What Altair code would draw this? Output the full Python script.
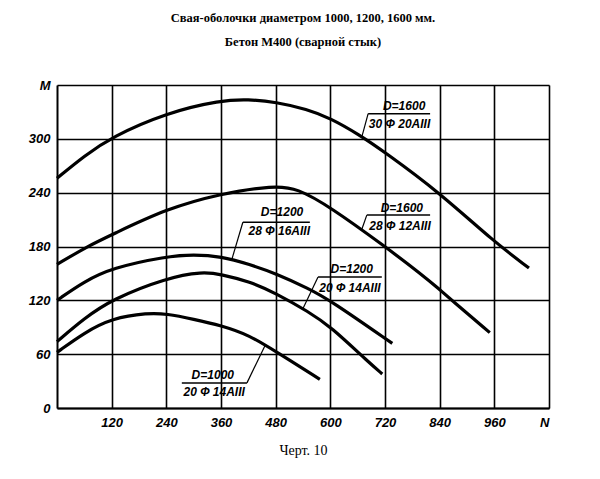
import altair as alt
import pandas as pd

# ---- data ----
x_ticks = [120, 240, 360, 480, 600, 720, 840, 960, 1080]
y_ticks = [0, 60, 120, 180, 240, 300, 360]

c1_x = [0, 60, 120, 240, 360, 420, 480, 549, 600, 662, 720, 840, 960, 1036]
c1_y = [256, 281, 302, 329, 343, 344, 341, 333, 323, 305, 285, 240, 185, 156]
c2_x = [0, 66, 120, 240, 360, 476, 527, 600, 720, 800, 840, 867, 950]
c2_y = [160, 180, 193, 222, 239, 248, 245, 224, 180, 149, 132, 120, 84]
c3_x = [0, 60, 120, 240, 300, 360, 423, 480, 553, 600, 736]
c3_y = [120, 141, 156, 169, 171, 169, 160, 150, 133, 120, 72]
c4_x = [0, 60, 120, 240, 320, 360, 423, 480, 553, 600, 686, 714]
c4_y = [74, 100, 121, 145, 152, 149, 141, 128, 107, 91, 50, 38]
c5_x = [0, 60, 120, 200, 240, 300, 360, 423, 480, 577]
c5_y = [62, 84, 100, 106, 105, 99, 92, 81, 63, 32]

lab_top = ["D=1600", "D=1600", "D=1200", "D=1200", "D=1000"]
lab_bot = ["30 Ф 20АIII", "28 Ф 12АIII", "28 Ф 16АIII", "20 Ф 14АIII", "20 Ф 14АIII"]
lab_x_top = [762, 757, 494, 647, 342]
lab_y_top = [337, 223, 219, 155, 37]
lab_x_bot = [752, 753, 488, 643, 345]
lab_y_bot = [317, 203, 197, 134, 18]
frac_x1 = [683, 680, 408, 573, 274]
frac_x2 = [819, 819, 555, 713, 417]
frac_y = [328, 215, 207, 146, 28]
lead_x1 = [683, 680, 408, 573, 417]
lead_x2 = [669, 669, 384, 540, 457]
lead_y2 = [302, 199, 166, 111, 70]

title_lines = ["Свая-оболочки диаметром 1000, 1200, 1600 мм.",
               "Бетон М400 (сварной стык)"]
caption = "Черт. 10"

# ---- tables ----
rows = []
for name, xs, ys in [("c1", c1_x, c1_y), ("c2", c2_x, c2_y), ("c3", c3_x, c3_y),
                     ("c4", c4_x, c4_y), ("c5", c5_x, c5_y)]:
    for i, (a, b) in enumerate(zip(xs, ys)):
        rows.append({"series": name, "i": i, "N": a, "M": b})
curves = pd.DataFrame(rows)

texts = pd.DataFrame({
    "x": lab_x_top + lab_x_bot,
    "y": lab_y_top + lab_y_bot,
    "t": lab_top + lab_bot,
})
fracs = pd.DataFrame({"x": frac_x1, "x2": frac_x2, "y": frac_y})
leads = pd.DataFrame({"x": lead_x1, "x2": lead_x2, "y": frac_y, "y2": lead_y2})

LBL_FONT = "Liberation Sans Narrow, Liberation Sans, Arial Narrow, sans-serif"
SERIF = "Liberation Serif, Times New Roman, serif"

xs = alt.Scale(domain=[0, 1080], nice=False, zero=False)
ys = alt.Scale(domain=[0, 360], nice=False, zero=False)

x_axis = alt.Axis(values=x_ticks, grid=True, gridColor="black", gridWidth=1.6,
                  gridOpacity=1, ticks=False, domainColor="black", domainWidth=2,
                  labelFont=LBL_FONT, labelFontStyle="italic", labelFontWeight="bold",
                  labelFontSize=13, labelColor="black", labelPadding=8,
                  labelExpr="datum.value == 1080 ? 'N' : datum.label",
                  title=caption, titleFont=SERIF, titleFontWeight="normal",
                  titleFontSize=14, titleColor="black", titlePadding=14)
y_axis = alt.Axis(values=y_ticks, grid=True, gridColor="black", gridWidth=1.6,
                  gridOpacity=1, ticks=False, domainColor="black", domainWidth=2,
                  labelFont=LBL_FONT, labelFontStyle="italic", labelFontWeight="bold",
                  labelFontSize=13, labelColor="black", labelPadding=7,
                  labelExpr="datum.value == 360 ? 'M' : datum.label",
                  title="")

lines = alt.Chart(curves).mark_line(color="black", strokeWidth=3.2,
                                    interpolate="basis").encode(
    x=alt.X("N:Q", scale=xs, axis=x_axis),
    y=alt.Y("M:Q", scale=ys, axis=y_axis),
    detail="series:N",
    order="i:Q",
)

labels = alt.Chart(texts).mark_text(font=LBL_FONT, fontStyle="italic",
                                    fontWeight="bold", fontSize=12,
                                    color="black").encode(
    x=alt.X("x:Q", scale=xs), y=alt.Y("y:Q", scale=ys), text="t:N")

frac = alt.Chart(fracs).mark_rule(color="black", strokeWidth=1.5).encode(
    x=alt.X("x:Q", scale=xs), x2="x2:Q", y=alt.Y("y:Q", scale=ys))

lead = alt.Chart(leads).mark_rule(color="black", strokeWidth=1.2).encode(
    x=alt.X("x:Q", scale=xs), x2="x2:Q", y=alt.Y("y:Q", scale=ys), y2="y2:Q")

chart = alt.layer(lines, frac, lead, labels).properties(
    width=492, height=323,
    autosize=alt.AutoSizeParams(type="none"),
    padding={"left": 49, "top": 77, "right": 43, "bottom": 63},
    title=alt.TitleParams(text=title_lines, font=SERIF, fontSize=12.5,
                          fontWeight="bold", color="black", anchor="middle",
                          lineHeight=24, offset=31),
).configure_view(stroke="black", strokeWidth=2).configure(background="white")

chart.save("out.html", embed_options={"renderer": "svg", "actions": False})
